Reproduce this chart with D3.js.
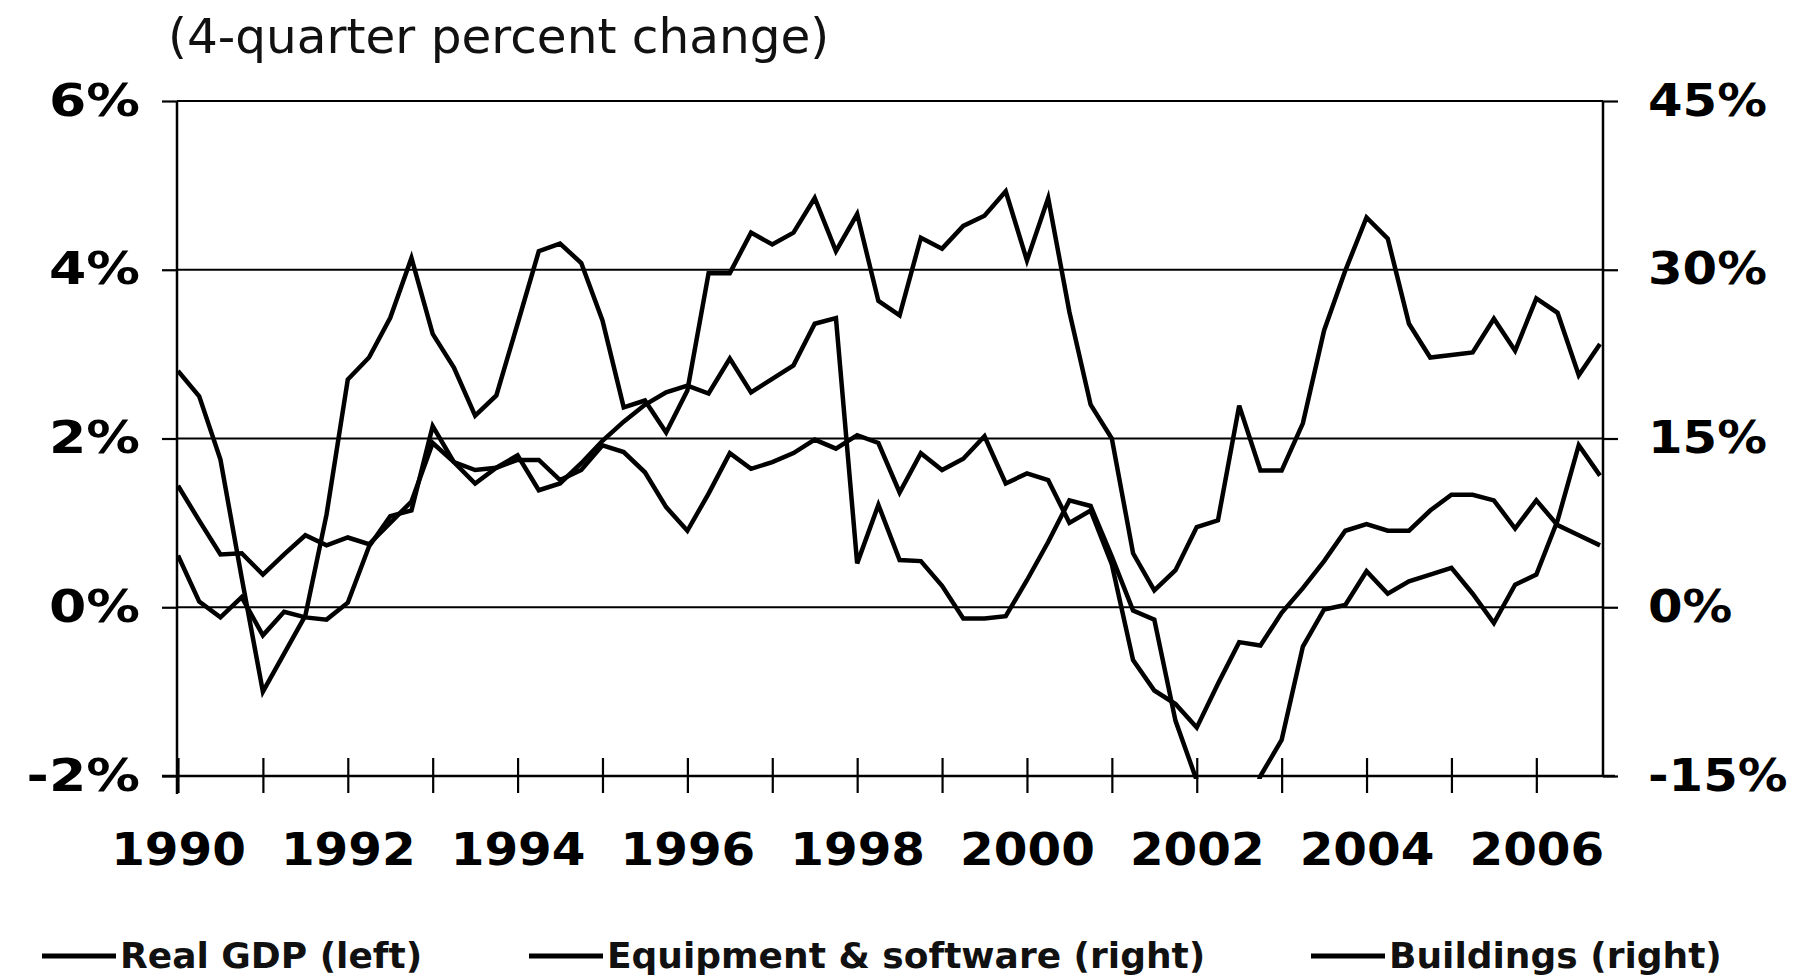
<!DOCTYPE html>
<meta charset="utf-8">
<head>
  <style>
    body { margin: 0; background: #fff; }
    svg { display: block; font-family: "DejaVu Sans", Verdana, sans-serif; }
    .title { font-size: 48.5px; fill: #111; }
    .legend text { font-size: 36px; font-weight: bold; fill: #111; }
    /* DejaVu is narrower than the original's Verdana, stretch a bit */
    .tick text { transform-box: fill-box; }
    .axis-left .tick text { transform: scaleX(1.22); transform-origin: right center; }
    .axis-right .tick text { transform: scaleX(1.13); transform-origin: left center; }
    .axis-bottom .tick text { transform: scaleX(1.1); transform-origin: center center; }
  </style>
</head>
<body>
<svg id="chart" width="1795" height="979"></svg>

<script src="https://d3js.org/d3.v7.min.js"></script>
<script>

// quarterly observations, 4-quarter percent change
var quarters = [
  "1990Q1", "1990Q2", "1990Q3", "1990Q4",
  "1991Q1", "1991Q2", "1991Q3", "1991Q4",
  "1992Q1", "1992Q2", "1992Q3", "1992Q4",
  "1993Q1", "1993Q2", "1993Q3", "1993Q4",
  "1994Q1", "1994Q2", "1994Q3", "1994Q4",
  "1995Q1", "1995Q2", "1995Q3", "1995Q4",
  "1996Q1", "1996Q2", "1996Q3", "1996Q4",
  "1997Q1", "1997Q2", "1997Q3", "1997Q4",
  "1998Q1", "1998Q2", "1998Q3", "1998Q4",
  "1999Q1", "1999Q2", "1999Q3", "1999Q4",
  "2000Q1", "2000Q2", "2000Q3", "2000Q4",
  "2001Q1", "2001Q2", "2001Q3", "2001Q4",
  "2002Q1", "2002Q2", "2002Q3", "2002Q4",
  "2003Q1", "2003Q2", "2003Q3", "2003Q4",
  "2004Q1", "2004Q2", "2004Q3", "2004Q4",
  "2005Q1", "2005Q2", "2005Q3", "2005Q4",
  "2006Q1", "2006Q2", "2006Q3", "2006Q4"
];

// left axis
var gdp = [
  2.8, 2.5, 1.75, 0.35,
  -1.0, -0.55, -0.1, 1.1,
  2.7, 2.96, 3.43, 4.14,
  3.24, 2.84, 2.27, 2.51,
  3.36, 4.22, 4.31, 4.08,
  3.4, 2.37, 2.45, 2.07,
  2.57, 3.96, 3.96, 4.44,
  4.3, 4.44, 4.85, 4.22,
  4.66, 3.63, 3.46, 4.38,
  4.25, 4.52, 4.64, 4.93,
  4.11, 4.85, 3.5, 2.4,
  2.0, 0.64, 0.2, 0.44,
  0.95, 1.03, 2.39, 1.62,
  1.62, 2.18, 3.28, 3.99,
  4.62, 4.37, 3.36, 2.96,
  2.99, 3.02, 3.42, 3.04,
  3.66, 3.49, 2.75, 3.12
];

// right axis
var equipment = [
  10.8, 7.7, 4.7, 4.8,
  2.9, 4.7, 6.4, 5.5,
  6.2, 5.6, 7.5, 9.4,
  14.6, 12.9, 12.2, 12.4,
  13.1, 13.1, 11.3, 12.2,
  14.4, 13.8, 12.0, 8.9,
  6.8, 10.1, 13.7, 12.3,
  12.9, 13.7, 14.9, 14.1,
  15.3, 14.6, 10.2, 13.7,
  12.2, 13.2, 15.2, 11.0,
  11.9, 11.3, 7.5, 8.6,
  3.8, -4.7, -7.4, -8.6,
  -10.7, -6.8, -3.1, -3.4,
  -0.5, 1.7, 4.1, 6.8,
  7.4, 6.8, 6.8, 8.6,
  10.0, 10.0, 9.5, 7.0,
  9.5, 7.3, 6.4, 5.5
];

// right axis
var buildings = [
  4.6, 0.5, -0.9, 0.9,
  -2.5, -0.4, -0.9, -1.1,
  0.4, 5.4, 8.1, 8.6,
  16.1, 12.9, 11.0, 12.4,
  13.5, 10.4, 11.0, 12.8,
  14.8, 16.5, 18.0, 19.1,
  19.7, 19.0, 22.1, 19.1,
  20.3, 21.5, 25.2, 25.7,
  3.9, 9.1, 4.2, 4.1,
  1.9, -1.0, -1.0, -0.8,
  2.4, 5.8, 9.5, 9.0,
  4.5, -0.3, -1.1, -10.1,
  -15.4, -20.3, -20.3, -15.0,
  -11.8, -3.5, -0.2, 0.2,
  3.2, 1.2, 2.3, 2.9,
  3.5, 1.2, -1.4, 2.0,
  2.9, 7.7, 14.4, 11.7
];

var yearTicks = [1990, 1991, 1992, 1993, 1994, 1995, 1996, 1997, 1998,
                 1999, 2000, 2001, 2002, 2003, 2004, 2005, 2006];
var yearLabels = [1990, 1992, 1994, 1996, 1998, 2000, 2002, 2004, 2006];
var leftTicks = [-2, 0, 2, 4, 6];
var rightTicks = [-15, 0, 15, 30, 45];
var seriesNames = ["Real GDP (left)", "Equipment & software (right)", "Buildings (right)"];

var plot = {left: 177, right: 1603, top: 101, bottom: 776};

var svg = d3.select("#chart");

function qTime(q) { return +q.slice(0, 4) + (+q.slice(5) - 1) / 4; }

var x = d3.scaleLinear().domain([1990, 2006.75]).range([178, 1600]);
var yLeft = d3.scaleLinear().domain([-2, 6]).range([plot.bottom, plot.top]);
var yRight = d3.scaleLinear().domain([-15, 45]).range([plot.bottom, plot.top]);

svg.append("text")
    .attr("class", "title")
    .attr("x", 168)
    .attr("y", 53)
    .text("(4-quarter percent change)");

// gridlines
svg.append("g")
  .selectAll("line")
  .data(leftTicks)
  .enter().append("line")
    .attr("x1", plot.left)
    .attr("x2", plot.right)
    .attr("y1", function(d) { return yLeft(d); })
    .attr("y2", function(d) { return yLeft(d); })
    .style("stroke", "#000")
    .style("stroke-width", 2.2);

// left axis
var gL = svg.append("g")
    .attr("class", "axis-left")
    .attr("transform", "translate(" + plot.left + ",0)")
    .call(d3.axisLeft(yLeft).tickValues(leftTicks).tickSize(15).tickPadding(22)
      .tickFormat(function(d) { return d + "%"; }));

// right axis
var gR = svg.append("g")
    .attr("class", "axis-right")
    .attr("transform", "translate(" + plot.right + ",0)")
    .call(d3.axisRight(yRight).tickValues(rightTicks).tickSize(15).tickPadding(30)
      .tickFormat(function(d) { return d + "%"; }));

// bottom axis, ticks cross the line
var gB = svg.append("g")
    .attr("class", "axis-bottom")
    .attr("transform", "translate(0," + plot.bottom + ")")
    .call(d3.axisBottom(x).tickValues(yearTicks).tickSize(17)
      .tickFormat(function(d) { return yearLabels.indexOf(d) >= 0 ? d : ""; }));

gB.selectAll(".tick line").attr("y1", -18);
gB.selectAll(".tick text").attr("y", 89).attr("dy", null);

[gL, gR, gB].forEach(function(g) {
  g.select(".domain").remove();
  g.attr("font-family", null).attr("font-size", null);
  g.selectAll(".tick line").style("stroke", "#000").style("stroke-width", 2.2);
  g.selectAll(".tick text")
    .style("font-size", "44px")
    .style("font-weight", "bold")
    .style("fill", "#000");
});

svg.append("line")
    .attr("x1", plot.left).attr("x2", plot.left)
    .attr("y1", plot.top).attr("y2", plot.bottom + 18)
    .style("stroke", "#000").style("stroke-width", 2.5);
svg.append("line")
    .attr("x1", plot.right).attr("x2", plot.right)
    .attr("y1", plot.top).attr("y2", plot.bottom)
    .style("stroke", "#000").style("stroke-width", 2.5);
svg.append("line")
    .attr("x1", plot.left - 15).attr("x2", plot.right + 12)
    .attr("y1", plot.bottom).attr("y2", plot.bottom)
    .style("stroke", "#000").style("stroke-width", 2.5);

svg.append("clipPath")
    .attr("id", "clip")
  .append("rect")
    .attr("x", plot.left)
    .attr("y", plot.top - 5)
    .attr("width", plot.right - plot.left)
    .attr("height", plot.bottom - plot.top + 8);

var series = [
  {name: seriesNames[0], values: gdp, y: yLeft},
  {name: seriesNames[1], values: equipment, y: yRight},
  {name: seriesNames[2], values: buildings, y: yRight}
];

var lines = svg.append("g").attr("clip-path", "url(#clip)");

series.forEach(function(s) {
  var line = d3.line()
      .x(function(d, i) { return x(qTime(quarters[i])); })
      .y(function(d) { return s.y(d); });
  lines.append("path")
      .datum(s.values)
      .attr("d", line)
      .style("fill", "none")
      .style("stroke", "#000")
      .style("stroke-width", 4.5)
      .style("stroke-linejoin", "miter");
});

// legend
var legendX = [42, 529, 1311];
var legend = svg.append("g").attr("class", "legend");
var item = legend.selectAll("g")
    .data(series)
  .enter().append("g")
    .attr("transform", function(d, i) { return "translate(" + legendX[i] + ",0)"; });
item.append("line")
    .attr("x1", 0).attr("x2", 74)
    .attr("y1", 956).attr("y2", 956)
    .style("stroke", "#000")
    .style("stroke-width", 5);
item.append("text")
    .attr("x", 78)
    .attr("y", 968)
    .text(function(d) { return d.name; });

</script>
</body>
